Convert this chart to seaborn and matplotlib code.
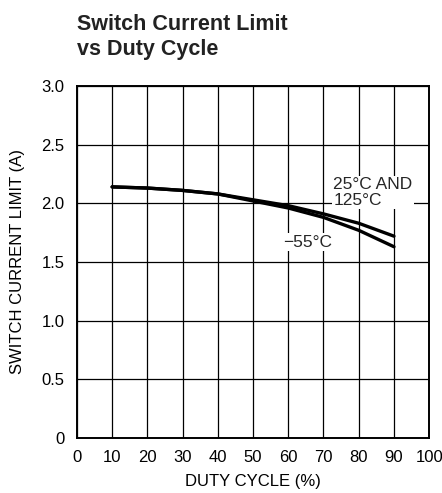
import pandas as pd
import seaborn as sns
import matplotlib.pyplot as plt

# values
duty = [10, 20, 30, 40, 50, 60, 70, 80, 90]
limit_hot = [2.14, 2.13, 2.11, 2.08, 2.03, 1.98, 1.91, 1.83, 1.72]   # 25C and 125C
limit_cold = [2.14, 2.13, 2.11, 2.08, 2.02, 1.96, 1.88, 1.77, 1.63]  # -55C

df = pd.DataFrame({
    'duty': duty + duty,
    'limit': limit_hot + limit_cold,
    'temp': ['25C AND 125C'] * len(duty) + ['-55C'] * len(duty),
})

sns.set_theme(style='white')
plt.rcParams['font.family'] = ['Liberation Sans', 'DejaVu Sans']

fig = plt.figure(figsize=(4.42, 4.93), dpi=100)
ax = fig.add_axes([0.174, 0.1116, 0.797, 0.714])

sns.lineplot(data=df, x='duty', y='limit', hue='temp',
             palette=['black', 'black'], linewidth=2.4, legend=False, ax=ax)

ax.set_xlim(0, 100)
ax.set_ylim(0, 3.0)
ax.set_xticks(range(0, 101, 10))
ax.set_yticks([0, 0.5, 1.0, 1.5, 2.0, 2.5, 3.0])
ax.set_yticklabels(['0', '0.5', '1.0', '1.5', '2.0', '2.5', '3.0'])
ax.grid(True, color='black', linewidth=0.9)
for s in ax.spines.values():
    s.set_color('black')
    s.set_linewidth(1.4)
ax.tick_params(axis='both', labelsize=12, colors='black', length=0)
ax.tick_params(axis='x', pad=9)
ax.tick_params(axis='y', pad=9)

ax.set_xlabel('DUTY CYCLE (%)', fontsize=12, color='black', labelpad=6)
ax.set_ylabel('SWITCH CURRENT LIMIT (A)', fontsize=12, color='black', labelpad=12)

box = dict(facecolor='white', edgecolor='none', pad=1)
ax.text(72.8, 2.22, '25°C AND\n125°C', fontsize=12.5, ha='left', va='top',
        linespacing=1.05, bbox=box)
ax.text(58.5, 1.67, '−55°C', fontsize=12.5, ha='left', va='center', bbox=box)

fig.text(0.174, 0.972, 'Switch Current Limit\nvs Duty Cycle', fontsize=15.5,
         fontweight='bold', ha='left', va='top', linespacing=1.25, color='#222222')

fig.savefig('out.png', dpi=100)
